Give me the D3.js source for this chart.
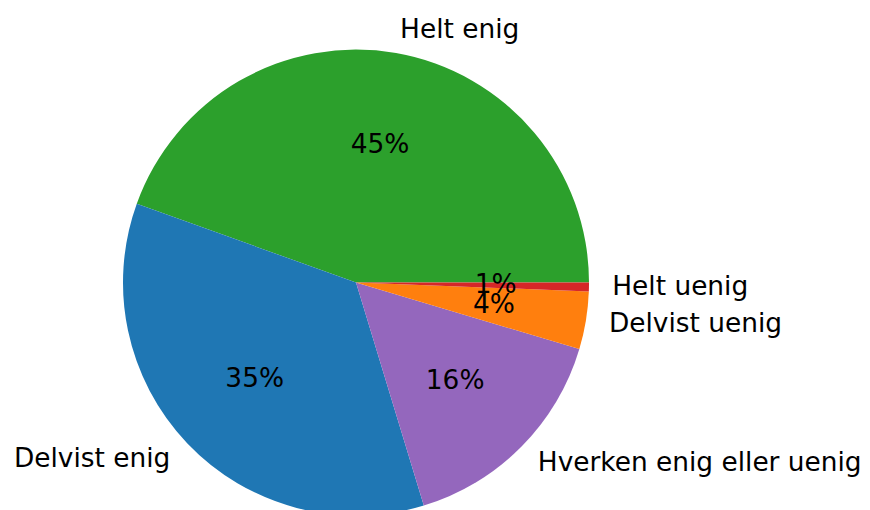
<!DOCTYPE html>
<html>
<head>
<meta charset="utf-8">
<script src="https://cdn.jsdelivr.net/npm/d3@7"></script>
<style>
  body { margin: 0; background: #fff; }
  text { font-family: "DejaVu Sans", sans-serif; fill: #000; }
</style>
</head>
<body>
<div id="chart"></div>
<script>
// pie data, in drawing order (counterclockwise from 3 o'clock)
const labels = ["Helt enig", "Delvist enig", "Hverken enig eller uenig", "Delvist uenig", "Helt uenig"];
const shares = [44.5, 35.2, 15.7, 4.0, 0.6];
const colors = ["#2ca02c", "#1f77b4", "#9467bd", "#ff7f0e", "#d62728"];

const width = 870, height = 510;
const cx = 356, cy = 282.6, radius = 233;
const fontSize = 26.4;

const data = labels.map((l, i) => ({ label: l, value: shares[i], color: colors[i] }));
const total = d3.sum(shares);

let svg = d3.select("#chart").append("svg")
  .attr("width", width)
  .attr("height", height);

let g = svg.append("g")
  .attr("transform", "translate(" + cx + "," + cy + ")");

// start at 3 o'clock and run counterclockwise, like matplotlib
let pie = d3.pie()
  .sort(null)
  .value(d => d.value)
  .startAngle(Math.PI / 2)
  .endAngle(Math.PI / 2 - 2 * Math.PI);

let arc = d3.arc().innerRadius(0).outerRadius(radius);

let arcs = pie(data);

g.selectAll("path.slice")
  .data(arcs)
  .enter().append("path")
  .attr("class", "slice")
  .attr("d", arc)
  .attr("fill", d => d.data.color);

function pos(d, r) {
  let a = (d.startAngle + d.endAngle) / 2;
  return [r * Math.sin(a), -r * Math.cos(a)];
}

// outer labels
g.selectAll("text.label")
  .data(arcs)
  .enter().append("text")
  .attr("class", "label")
  .attr("x", d => pos(d, radius * 1.1)[0])
  .attr("y", d => pos(d, radius * 1.1)[1] - 1.5)
  .attr("text-anchor", d => pos(d, 1)[0] > 0 ? "start" : "end")
  .attr("dominant-baseline", "central")
  .style("font-size", fontSize + "px")
  .text(d => d.data.label);

// percentages
g.selectAll("text.pct")
  .data(arcs)
  .enter().append("text")
  .attr("class", "pct")
  .attr("x", d => pos(d, radius * 0.6)[0])
  .attr("y", d => pos(d, radius * 0.6)[1] - 1.5)
  .attr("text-anchor", "middle")
  .attr("dominant-baseline", "central")
  .style("font-size", fontSize + "px")
  .text(d => Math.round(d.data.value / total * 100) + "%");
</script>
</body>
</html>
